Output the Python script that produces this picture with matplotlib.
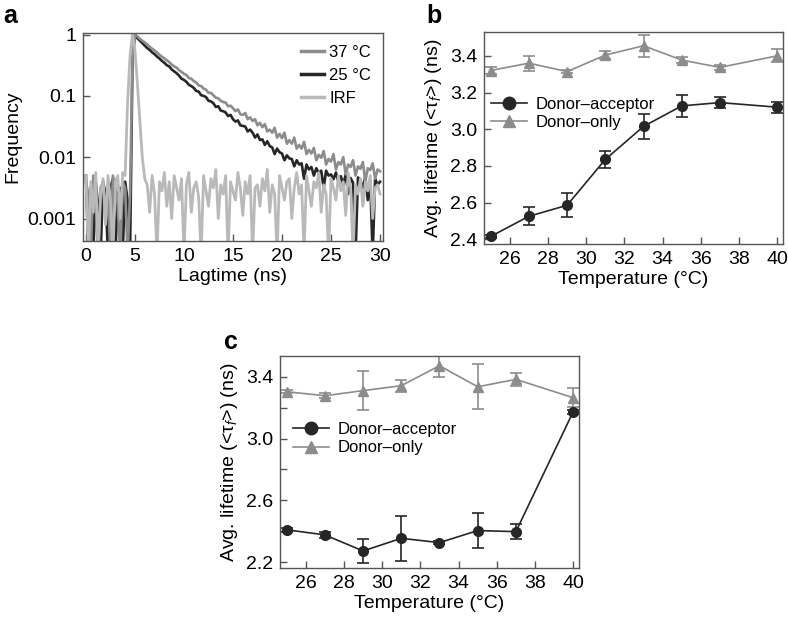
import numpy as np
import matplotlib
matplotlib.use('Agg')
import matplotlib.pyplot as plt
from matplotlib.lines import Line2D

plt.rcParams['font.family'] = ['Liberation Sans', 'DejaVu Sans']
plt.rcParams['mathtext.fontset'] = 'custom'
plt.rcParams['mathtext.rm'] = 'Liberation Sans'
plt.rcParams['mathtext.it'] = 'Liberation Sans:italic'

# ---- panel a: fluorescence decays (log10 of frequency, 0.25 ns bins) ----
lag_step = 0.25
decay_25 = [
    -2.3, -3.6, -2.5, -3.6, -2.4, -2.8, -3.6, -2.4, -2.6, -3.6, -2.5, -2.35, -3.6, -2.6, -2.5, -3.6, -2.4, -2.7, -3.6,
    -0.4, 0.0,
    -0.06, -0.10, -0.14, -0.18, -0.22, -0.25, -0.29, -0.32, -0.36, -0.39, -0.43, -0.46, -0.50, -0.52, -0.57, -0.60,
    -0.63, -0.67, -0.72, -0.74, -0.77, -0.82, -0.84, -0.87, -0.92, -0.93, -0.99, -1.00, -1.02, -1.08, -1.09, -1.12,
    -1.18, -1.17, -1.24, -1.25, -1.27, -1.33, -1.31, -1.38, -1.42, -1.40, -1.48, -1.49, -1.50, -1.58, -1.55, -1.60,
    -1.68, -1.63, -1.72, -1.71, -1.80, -1.74, -1.82, -1.84, -1.95, -1.86, -1.92, -1.94, -2.05, -1.97, -2.02, -2.03,
    -2.15, -2.05, -2.12, -2.10, -2.35, -2.12, -2.20, -2.16, -2.30, -2.18, -2.26, -2.22, -2.50, -2.22, -2.30, -2.28,
    -2.36, -2.25, -2.40, -2.31, -2.45, -2.28, -2.60, -2.34, -2.42, -3.6, -2.33, -2.38, -2.50, -2.32, -2.70, -2.37,
    -3.6, -2.35, -2.45, -2.40]
decay_37 = [
    -2.4, -2.6, -3.6, -2.3, -2.7, -3.6, -2.5, -2.4, -3.0, -2.6, -3.6, -2.3, -2.5, -2.8, -3.6, -2.4, -2.5, -3.6, -2.6,
    -0.4, 0.0,
    -0.03, -0.07, -0.10, -0.13, -0.16, -0.20, -0.23, -0.26, -0.29, -0.33, -0.36, -0.39, -0.42, -0.45, -0.49, -0.52,
    -0.54, -0.58, -0.61, -0.64, -0.66, -0.71, -0.72, -0.76, -0.78, -0.83, -0.84, -0.88, -0.90, -0.95, -0.95, -0.99,
    -1.03, -1.04, -1.08, -1.10, -1.11, -1.17, -1.16, -1.20, -1.25, -1.22, -1.30, -1.31, -1.28, -1.38, -1.35, -1.41,
    -1.38, -1.48, -1.44, -1.51, -1.46, -1.58, -1.55, -1.60, -1.52, -1.68, -1.62, -1.69, -1.60, -1.78, -1.72, -1.78,
    -1.68, -1.86, -1.80, -1.86, -1.75, -1.95, -1.88, -1.94, -1.85, -2.05, -1.96, -2.01, -1.90, -2.12, -2.03, -2.07,
    -1.95, -2.20, -2.08, -2.12, -2.00, -2.28, -2.12, -2.16, -2.05, -2.30, -2.15, -2.19, -2.08, -2.40, -2.18, -2.21,
    -2.10, -2.35, -2.20, -2.23]
irf = [
    -2.3, -3.6, -2.4, -2.9, -2.25, -3.6, -2.6, -2.35, -3.1, -2.3, -2.7, -3.6, -2.4, -2.3, -3.0, -2.25,
    -2.3, -1.1, -0.35, 0.0, -0.25, -0.8, -1.4, -2.0, -2.35,
    -2.45, -2.9, -2.3, -2.6, -3.6, -2.4, -2.55, -2.25,
    -2.8, -2.4, -3.0, -2.3, -2.5, -2.7, -2.35, -3.6,
    -2.45, -2.25, -2.9, -2.5, -2.4, -2.65, -3.6, -2.3,
    -2.55, -2.8, -2.35, -2.5, -2.2, -3.0, -2.45, -2.6,
    -2.3, -3.6, -2.4, -2.55, -2.7, -2.25, -2.5, -2.95,
    -2.4, -2.6, -2.3, -3.6, -2.5, -2.45, -2.8, -2.35,
    -2.55, -2.2, -2.9, -2.45, -2.6, -3.6, -2.3, -2.5,
    -2.7, -2.4, -2.35, -3.0, -2.5, -2.25, -2.6, -2.45,
    -3.6, -2.3, -2.55, -2.8, -2.4, -2.5, -2.25, -2.9,
    -2.45, -2.6, -3.6, -2.35, -2.5, -2.7, -2.3, -2.55,
    -2.4, -2.95, -2.25, -2.5, -3.6, -2.45, -2.6, -2.35,
    -2.8, -2.4, -2.55, -2.3, -3.0, -2.5, -2.45, -2.6]

# ---- panels b and c: average lifetimes ----
temps = [25, 27, 29, 31, 33, 35, 37, 40]
b_da = [2.415, 2.525, 2.585, 2.835, 3.015, 3.127, 3.145, 3.12]
b_da_err = [0.008, 0.05, 0.065, 0.045, 0.07, 0.06, 0.03, 0.03]
b_do = [3.32, 3.36, 3.314, 3.404, 3.455, 3.377, 3.337, 3.40]
b_do_err = [0.02, 0.04, 0.01, 0.02, 0.06, 0.015, 0.015, 0.035]
c_da = [2.41, 2.377, 2.273, 2.355, 2.327, 2.405, 2.398, 3.174]
c_da_err = [0.012, 0.02, 0.08, 0.145, 0.01, 0.115, 0.05, 0.012]
c_do = [3.303, 3.277, 3.31, 3.342, 3.471, 3.335, 3.383, 3.264]
c_do_err = [0.01, 0.015, 0.125, 0.04, 0.07, 0.145, 0.04, 0.06]

dark = '#262626'
mid = '#8c8c8c'
light = '#b9b9b9'
spine_col = '#555555'

fig = plt.figure(figsize=(7.88, 6.2), dpi=100)


def style_axes(ax):
    for s in ax.spines.values():
        s.set_color(spine_col)
        s.set_linewidth(1.0)
    ax.tick_params(direction='in', length=5, width=1, color=spine_col,
                   labelsize=14, pad=5)


# panel a
ax = fig.add_axes([0.1053, 0.6113, 0.3807, 0.3355])
t = np.arange(len(irf)) * lag_step
l25, = ax.plot(t, 10 ** np.array(decay_25), color=dark, lw=1.9)
l37, = ax.plot(t, 10 ** np.array(decay_37), color=mid, lw=1.9)
lirf, = ax.plot(t, 10 ** np.array(irf), color=light, lw=2.0)
ax.set_yscale('log')
ax.set_ylim(4.3e-4, 1.06)
ax.set_xlim(-0.3, 30.3)
ax.set_yticks([1, 0.1, 0.01, 0.001])
ax.set_yticklabels(['1', '0.1', '0.01', '0.001'])
ax.yaxis.set_minor_locator(matplotlib.ticker.NullLocator())
ax.set_xticks([0, 5, 10, 15, 20, 25, 30])
ax.set_xlabel('Lagtime (ns)', fontsize=14, labelpad=2)
ax.set_ylabel('Frequency', fontsize=14, labelpad=4)
style_axes(ax)
leg = ax.legend([l37, l25, lirf], ['37 °C', '25 °C', 'IRF'], frameon=False, fontsize=12,
                loc='upper right', handlelength=1.4, handletextpad=0.3,
                labelspacing=0.5, borderaxespad=0.3)
for ln in leg.get_lines():
    ln.set_linewidth(2.5)


def lifetime_panel(rect, da, da_err, do, do_err, ylim, yticks, ylabels, leg_anchor):
    ax = fig.add_axes(rect)
    ax.errorbar(temps, do, yerr=do_err, color=mid, marker='^', ms=7, lw=1.2,
                capsize=4, elinewidth=1.2, capthick=1.2)
    ax.errorbar(temps, da, yerr=da_err, color=dark, marker='o', ms=7, lw=1.2,
                capsize=4, elinewidth=1.2, capthick=1.2)
    ax.set_xlim(24.65, 40.3)
    ax.set_ylim(*ylim)
    ax.set_xticks(range(26, 41, 2))
    ax.set_yticks(yticks)
    ax.set_yticklabels(ylabels)
    ax.set_xlabel('Temperature (°C)', fontsize=14, labelpad=2)
    ax.set_ylabel(r'Avg. lifetime (<$\mathrm{\tau}_f$>) (ns)', fontsize=14, labelpad=4)
    style_axes(ax)
    handles = [Line2D([], [], color=dark, marker='o', ms=9, lw=1.2),
               Line2D([], [], color=mid, marker='^', ms=9, lw=1.2)]
    ax.legend(handles, ['Donor–acceptor', 'Donor–only'], frameon=False, fontsize=12,
              loc='upper left', bbox_to_anchor=leg_anchor, handlelength=2.2,
              handletextpad=0.5, labelspacing=0.2, borderaxespad=0)
    return ax


lifetime_panel([0.6142, 0.6065, 0.3794, 0.3419], b_da, b_da_err, b_do, b_do_err,
               (2.374, 3.53), [2.4, 2.6, 2.8, 3.0, 3.2, 3.4],
               ['2.4', '2.6', '2.8', '3.0', '3.2', '3.4'], (0.0, 0.725))
lifetime_panel([0.3553, 0.0839, 0.3794, 0.3419], c_da, c_da_err, c_do, c_do_err,
               (2.163, 3.534), [2.2, 2.4, 2.6, 2.8, 3.0, 3.2, 3.4],
               ['2.2', '', '2.6', '', '3.0', '', '3.4'], (0.02, 0.72))

fig.text(0.004, 0.993, 'a', fontsize=18, fontweight='bold', va='top')
fig.text(0.541, 0.993, 'b', fontsize=18, fontweight='bold', va='top')
fig.text(0.284, 0.468, 'c', fontsize=18, fontweight='bold', va='top')

fig.savefig('out.png', dpi=100)
